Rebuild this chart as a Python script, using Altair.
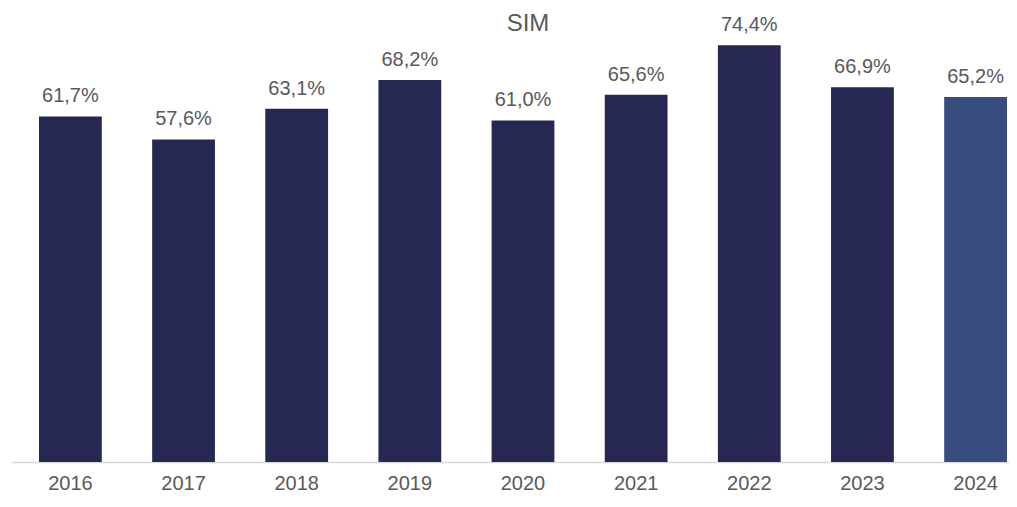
import altair as alt
import pandas as pd

years = ["2016", "2017", "2018", "2019", "2020", "2021", "2022", "2023", "2024"]
values = [61.7, 57.6, 63.1, 68.2, 61.0, 65.6, 74.4, 66.9, 65.2]
highlight = ["no", "no", "no", "no", "no", "no", "no", "no", "yes"]
title_text = ["SIM"]

df = pd.DataFrame({
    "year": years,
    "value": values,
    "hl": highlight,
    "label": [f"{v:.1f}".replace(".", ",") + "%" for v in values],
})

FONT = "Liberation Sans"
GRAY = "#595959"

x = alt.X("year:N", sort=years, title=None,
          scale=alt.Scale(paddingInner=0.445, paddingOuter=0.1326, align=0.933),
          axis=alt.Axis(labelAngle=0, labelFont=FONT, labelFontSize=20, labelColor=GRAY,
                        labelPadding=11, ticks=False, domainColor="#D9D9D9",
                        domainWidth=1.5, grid=False))
y = alt.Y("value:Q", scale=alt.Scale(domain=[0, 75], nice=False, zero=True), axis=None)

bars = alt.Chart(df).mark_bar().encode(
    x=x, y=y,
    color=alt.Color("hl:N", scale=alt.Scale(domain=["no", "yes"], range=["#262853", "#384D7F"]),
                    legend=None),
)

text = alt.Chart(df).mark_text(font=FONT, fontSize=20, color=GRAY, baseline="alphabetic", dy=-14).encode(
    x=x, y=y, text="label:N"
)

title = alt.Chart(pd.DataFrame({"t": title_text})).mark_text(
    font=FONT, fontSize=24, color=GRAY, baseline="alphabetic", align="center"
).encode(text="t:N", x=alt.value(517), y=alt.value(-11))

chart = (bars + text + title).properties(
    width=998, height=420,
    padding={"left": 3, "right": 0, "top": 34, "bottom": 30},
    autosize=alt.AutoSizeParams(type="none"),
).configure(background="white").configure_view(stroke=None)

chart.save("out.html", embed_options={"renderer": "svg", "actions": False})
